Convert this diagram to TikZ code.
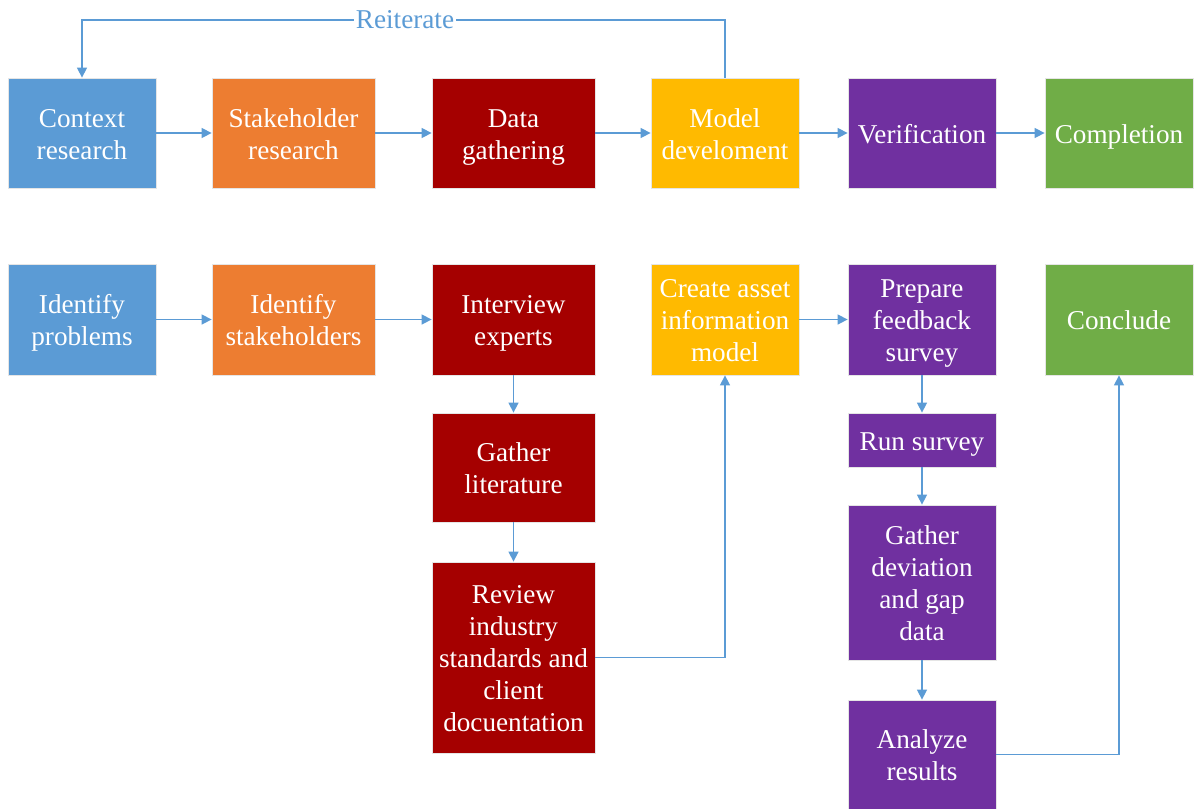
\documentclass[tikz,border=0pt]{standalone}
\usepackage{fontspec}
\setmainfont{Liberation Serif}
\usetikzlibrary{arrows.meta}
\definecolor{phblue}{HTML}{5B9BD5}
\definecolor{phorange}{HTML}{ED7D31}
\definecolor{phred}{HTML}{A50000}
\definecolor{phyellow}{HTML}{FFBA00}
\definecolor{phpurple}{HTML}{7030A0}
\definecolor{phgreen}{HTML}{70AD47}
\definecolor{linkblue}{HTML}{5B9BD5}
\newcommand{\stagetop}{\rule{0pt}{13pt}}
\newcommand{\stagebot}{\rule[-3pt]{0pt}{3pt}}

\begin{document}
\begin{tikzpicture}[x=0.5pt,y=-0.5pt]
    \tikzstyle{stage}=[draw=white!80!gray,line width=0.4pt,text=white,align=flush center,
      inner sep=1pt,font=\fontsize{13.6}{16}\selectfont,text width=72pt,
      minimum width=74pt,minimum height=55pt,
      execute at begin node=\stagetop,execute at end node=\stagebot]
    \tikzstyle{wide}=[text width=79.5pt,minimum width=81.5pt]
    \tikzstyle{flow}=[-{Triangle[width=5pt,length=5pt]},linkblue,line width=0.75pt]
  \useasboundingbox (0,0) rectangle (1195,809);
  \clip (0,0) rectangle (1195,809);
  % phases
  \node[stage,fill=phblue] (context) at (82,133) {Context\\research};
  \node[stage,wide,fill=phorange] (stakeres) at (293.5,133) {Stakeholder\\research};
  \node[stage,wide,fill=phred] (datagath) at (513.5,133) {Data\\gathering};
  \node[stage,fill=phyellow] (model) at (725,133) {Model\\develoment};
  \node[stage,fill=phpurple] (verif) at (922,133) {Verification};
  \node[stage,fill=phgreen] (complete) at (1119,133) {Completion};
  % tasks
  \node[stage,fill=phblue,minimum height=55.5pt] (problems) at (82,319.5) {Identify\\problems};
  \node[stage,wide,fill=phorange,minimum height=55.5pt] (stakeid) at (293.5,319.5) {Identify\\stakeholders};
  \node[stage,wide,fill=phred,minimum height=55.5pt] (interview) at (513.5,319.5) {Interview\\experts};
  \node[stage,wide,fill=phred,minimum height=54.5pt] (literature) at (513.5,467.5) {Gather\\literature};
  \node[stage,wide,fill=phred,minimum height=95.5pt] (review) at (513.5,657.5) {Review\\industry\\standards and\\client\\docuentation};
  \node[stage,fill=phyellow,minimum height=55.5pt] (asset) at (725,319.5) {Create asset\\information\\model};
  \node[stage,fill=phpurple,minimum height=55.5pt] (survey) at (922,319.5) {Prepare\\feedback\\survey};
  \node[stage,fill=phpurple,minimum height=27pt] (runsurvey) at (922,440) {Run survey};
  \node[stage,fill=phpurple,minimum height=77.5pt] (deviation) at (922,582.5) {Gather\\deviation\\and gap\\data};
  \node[stage,fill=phpurple,minimum height=54.5pt] (analyze) at (922,754.5) {Analyze\\results};
  \node[stage,fill=phgreen,minimum height=55.5pt] (conclude) at (1119,319.5) {Conclude};
  % links
  \draw[flow] (context) -- (stakeres);
  \draw[flow] (stakeres) -- (datagath);
  \draw[flow] (datagath) -- (model);
  \draw[flow] (model) -- (verif);
  \draw[flow] (verif) -- (complete);
  \draw[flow] (problems) -- (stakeid);
  \draw[flow] (stakeid) -- (interview);
  \draw[flow] (asset) -- (survey);
  \draw[flow] (interview) -- (literature);
  \draw[flow] (literature) -- (review);
  \draw[flow] (review.east) -| (asset.south);
  \draw[flow] (survey) -- (runsurvey);
  \draw[flow] (runsurvey) -- (deviation);
  \draw[flow] (deviation) -- (analyze);
  \draw[flow] (analyze.east) -| (conclude.south);
  \coordinate (looptop) at (405,20);
  \draw[flow] (model.north) -- (model.north |- looptop) -- (context.north |- looptop) -- (context.north);
  \node[fill=white,text=linkblue,inner sep=1pt,font=\fontsize{13.6}{16}\selectfont] (reiterate) at (looptop) {Reiterate};
\end{tikzpicture}
\end{document}
